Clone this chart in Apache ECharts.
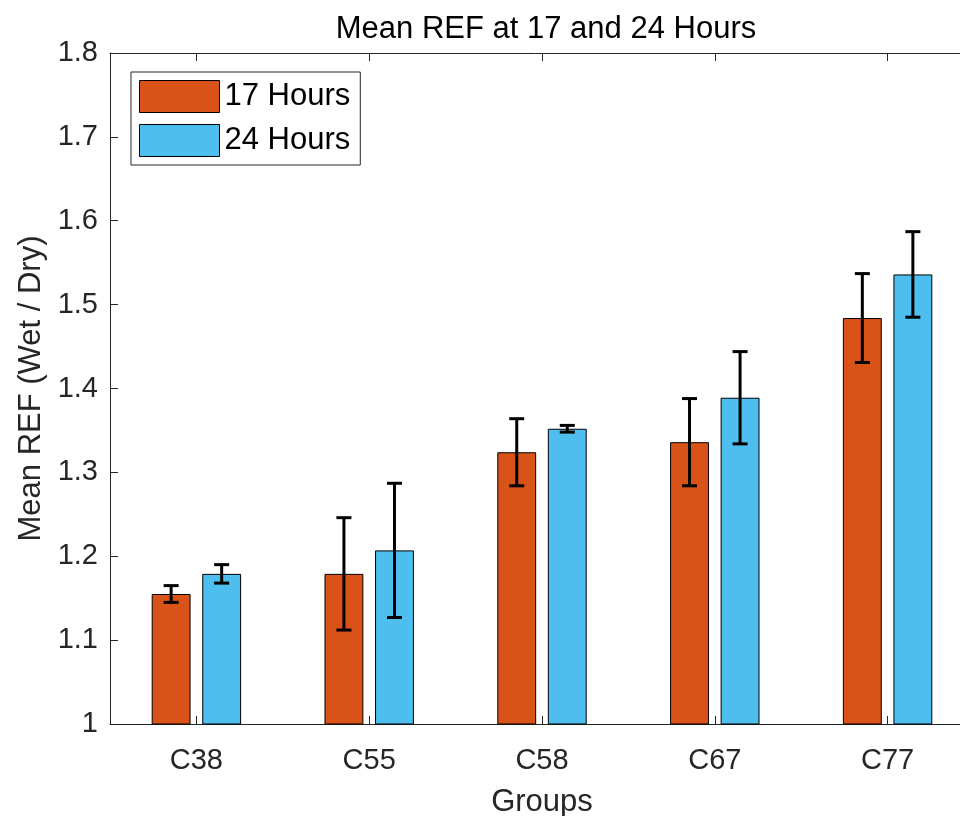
<!DOCTYPE html>
<html>
<head>
<meta charset="utf-8">
<script src="https://cdn.jsdelivr.net/npm/echarts@6/dist/echarts.min.js"></script>
<style>
  html, body { margin: 0; padding: 0; background: #fff; }
  #main { width: 960px; height: 816px; }
</style>
</head>
<body>
<div id="main"></div>
<script>
// groups and the two time points
const groups = ['C38', 'C55', 'C58', 'C67', 'C77'];
const mean17 = [1.155, 1.179, 1.324, 1.336, 1.484];
const err17 = [0.010, 0.067, 0.040, 0.052, 0.053];
const mean24 = [1.179, 1.207, 1.352, 1.389, 1.536];
const err24 = [0.011, 0.080, 0.004, 0.055, 0.051];

const FONT = "'Liberation Sans', Arial, Helvetica, sans-serif";
const TXT = '#262626';

// [index, low, high] for the error bar series
const toErr = (m, e) => m.map((v, i) => [i, v - e[i], v + e[i]]);

const BAR_W = 0.225;   // fraction of the band
const BAR_GAP = 0.3;   // fraction of bar width
const shift = BAR_W / 2 + BAR_W * BAR_GAP / 2;

function errRender(side) {
  return function (params, api) {
    const band = api.size([1, 0])[0];
    const lo = api.coord([api.value(0), api.value(1)]);
    const hi = api.coord([api.value(0), api.value(2)]);
    const x = lo[0] + side * shift * band;
    const cap = 7.5;
    const st = { stroke: '#000', lineWidth: 3 };
    return {
      type: 'group',
      children: [
        { type: 'line', shape: { x1: x, y1: lo[1], x2: x, y2: hi[1] }, style: st },
        { type: 'line', shape: { x1: x - cap, y1: lo[1], x2: x + cap, y2: lo[1] }, style: st },
        { type: 'line', shape: { x1: x - cap, y1: hi[1], x2: x + cap, y2: hi[1] }, style: st }
      ]
    };
  };
}

const chart = echarts.init(document.getElementById('main'));

chart.setOption({
  backgroundColor: '#fff',
  animation: false,
  textStyle: { fontFamily: FONT, color: TXT },
  title: {
    text: 'Mean REF at 17 and 24 Hours',
    left: 541,
    textAlign: 'center',
    top: 9,
    textStyle: { fontFamily: FONT, fontSize: 31, fontWeight: 'normal', color: '#000' }
  },
  legend: {
    orient: 'vertical',
    left: 131,
    top: 72,
    padding: [8, 10, 8, 8],
    itemWidth: 80,
    itemHeight: 32,
    itemGap: 11,
    icon: 'rect',
    backgroundColor: '#fff',
    borderColor: TXT,
    borderWidth: 1,
    data: ['17 Hours', '24 Hours'],
    itemStyle: { borderColor: '#000', borderWidth: 1 },
    textStyle: { fontFamily: FONT, fontSize: 31, color: '#000' }
  },
  grid: { left: 110, top: 53, width: 864, height: 671, outerBoundsMode: 'none' },
  xAxis: [
    {
      type: 'category',
      data: groups,
      name: 'Groups',
      nameLocation: 'middle',
      nameGap: 63,
      nameTextStyle: { fontFamily: FONT, fontSize: 31, color: TXT },
      axisLine: { lineStyle: { color: TXT, width: 1 } },
      axisTick: { show: true, inside: true, alignWithLabel: true, length: 8, lineStyle: { color: TXT } },
      axisLabel: { fontFamily: FONT, fontSize: 29, color: TXT, margin: 22 }
    },
    {
      type: 'category',
      data: groups,
      position: 'top',
      axisLine: { show: true, lineStyle: { color: TXT, width: 1 } },
      axisTick: { show: true, inside: true, alignWithLabel: true, length: 8, lineStyle: { color: TXT } },
      axisLabel: { show: false }
    }
  ],
  yAxis: {
    type: 'value',
    min: 1,
    max: 1.8,
    interval: 0.1,
    name: 'Mean REF (Wet / Dry)',
    nameLocation: 'middle',
    nameGap: 62,
    nameTextStyle: { fontFamily: FONT, fontSize: 31, color: TXT },
    axisLine: { show: true, lineStyle: { color: TXT, width: 1 } },
    axisTick: { show: true, inside: true, length: 8, lineStyle: { color: TXT } },
    axisLabel: { fontFamily: FONT, fontSize: 29, color: TXT, margin: 12 },
    splitLine: { show: false }
  },
  series: [
    {
      name: '17 Hours',
      type: 'bar',
      data: mean17,
      barWidth: (BAR_W * 100) + '%',
      barGap: (BAR_GAP * 100) + '%',
      itemStyle: { color: '#D95319', borderColor: '#000', borderWidth: 1 }
    },
    {
      name: '24 Hours',
      type: 'bar',
      data: mean24,
      barWidth: (BAR_W * 100) + '%',
      barGap: (BAR_GAP * 100) + '%',
      itemStyle: { color: '#4DBEEE', borderColor: '#000', borderWidth: 1 }
    },
    {
      type: 'custom',
      renderItem: errRender(-1),
      data: toErr(mean17, err17),
      encode: { x: 0, y: [1, 2] },
      z: 10
    },
    {
      type: 'custom',
      renderItem: errRender(1),
      data: toErr(mean24, err24),
      encode: { x: 0, y: [1, 2] },
      z: 10
    }
  ]
});
</script>
</body>
</html>
